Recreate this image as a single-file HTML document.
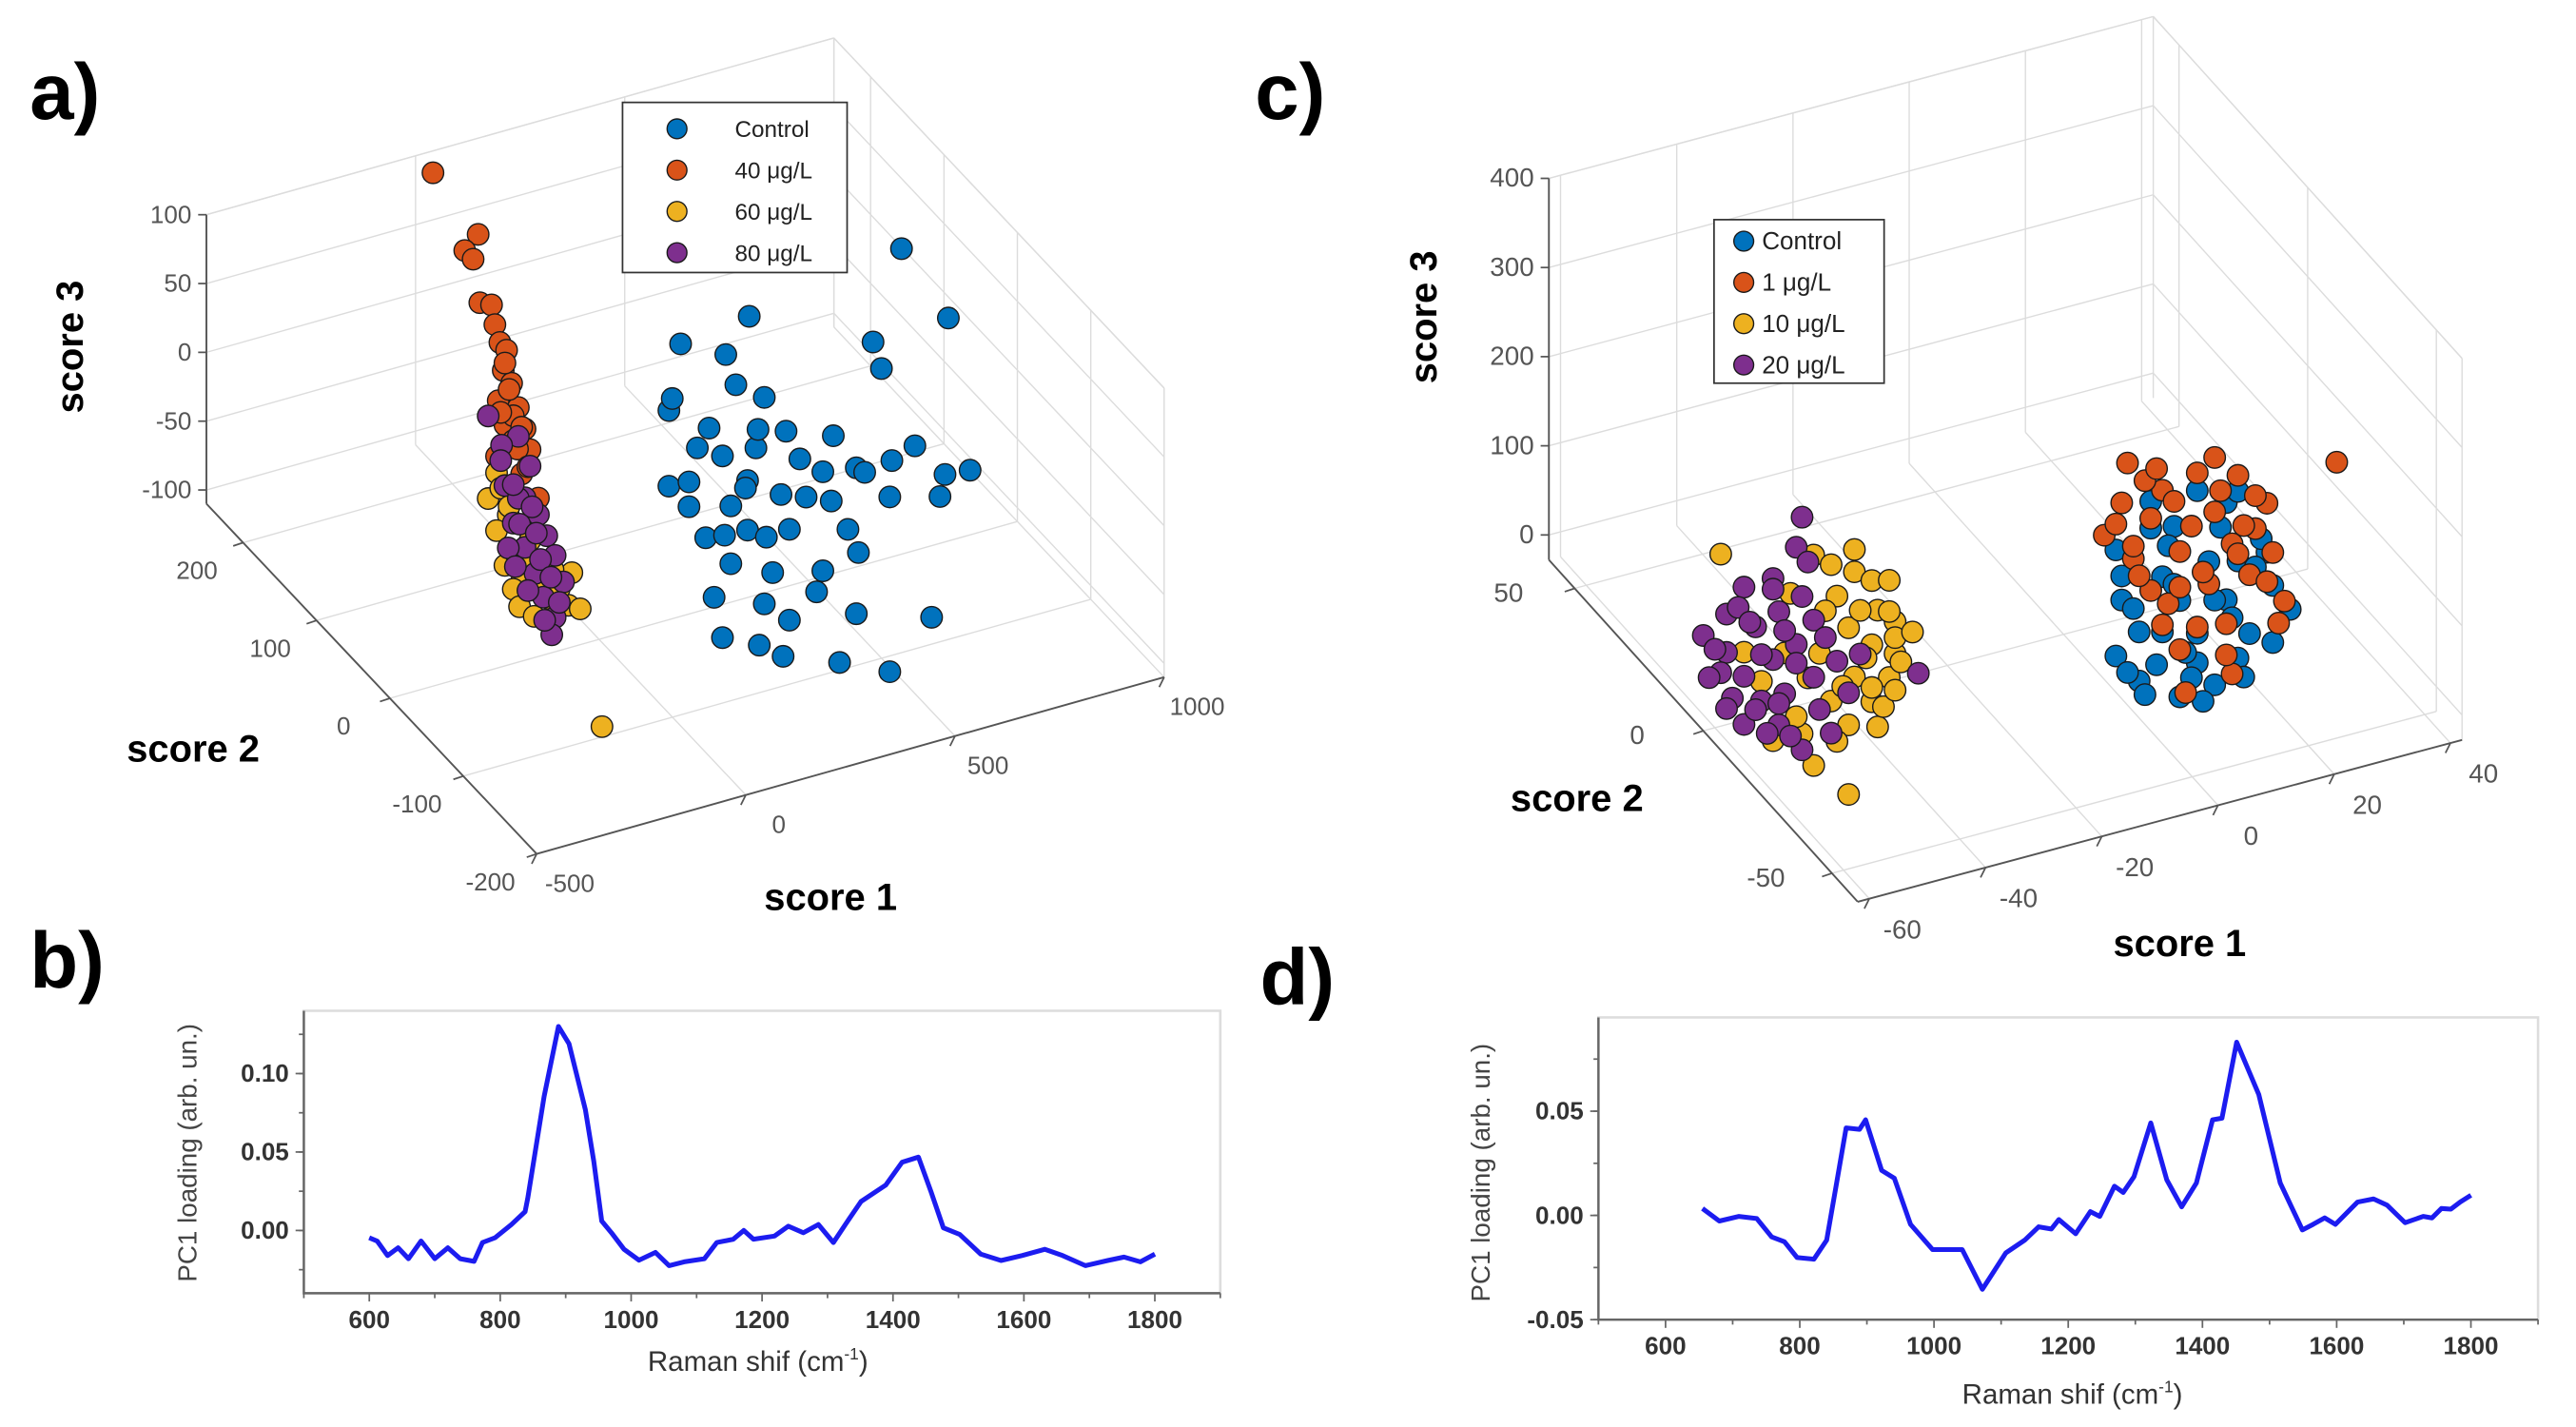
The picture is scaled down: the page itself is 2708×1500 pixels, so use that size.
<!DOCTYPE html>
<html><head><meta charset="utf-8"><style>
html,body{margin:0;padding:0;background:#fff;}
svg{display:block;font-family:"Liberation Sans",sans-serif;}
</style></head><body>
<svg id="fig" width="2708" height="1500" viewBox="0 0 1560 864" preserveAspectRatio="none" xmlns="http://www.w3.org/2000/svg">
<rect width="1560" height="864" fill="#fff"/>
<text x="18" y="72" font-size="48" font-weight="bold">a)</text>
<text x="18" y="598" font-size="48" font-weight="bold">b)</text>
<text x="760" y="72" font-size="48" font-weight="bold">c)</text>
<text x="763" y="608" font-size="48" font-weight="bold">d)</text>
<g id="pa"></g>
<g id="pc"></g>
<g id="pb"></g>
<g id="pd"></g>
</svg>
<script>
// ---------- Panel a data (score1, score3; score2 = 0) ----------
const aControlS1=[723,835,359,195,303,655,167,327,675,395,263,447,755,615,167,295,535,635,827,887,215,315,435,555,695,815,255,355,455,595,315,415,535,275,395,615,795,295,383,455,575,695,215,355,495,375,235,175,480,560,350,400,620,520,300,440,700,380];
const aControlS3=[112,52,94,88,71,50,42,47,29,32,21,3,-34,-38,-13,-2,-34,-43,-61,-63,-32,-40,-42,-57,-66,-76,-58,-61,-69,-81,-82,-97,-106,-103,-118,-144,-162,-134,-147,-135,-176,-193,-14,-25,-49,-3,9,50,-20,-10,-30,-70,-100,-120,-60,-160,-40,10];
const a40S1=[-397,-289,-321,-301,-285,-257,-249,-237,-221,-229,-209,-241,-193,-225,-177,-205,-165,-245,-185,-145,-205,-215,-185,-225,-195,-235,-170];
const a40S3=[263,209,200,192,159,155,140,126,119,105,94,84,75,65,58,52,42,44,26,5,70,90,60,110,45,75,30];
const a60S1=[-245,-265,-217,-245,-165,-225,-185,-65,-145,-73,-45,-205,-145,7,-235,-200,-170,-120,-95,-190,-155,-215,-110];
const a60S3=[32,15,-1,-10,-24,-37,-52,-56,-61,-79,-84,-56,-43,-174,20,-30,-40,-70,-65,-70,-80,5,-50];
const a80S1=[-265,-193,-233,-165,-225,-177,-145,-205,-125,-177,-105,-153,-85,-133,-105,-113,-193,-217,-235,-205,-160,-190,-140,-115,-170,-130,-200,-150,-95];
const a80S3=[75,54,51,30,21,8,-7,-8,-24,-28,-40,-49,-61,-68,-85,-97,9,-25,40,20,0,-10,-40,-55,-60,-85,-40,-20,-75];
const aS1Ticks=[-500,0,500,1000];
const aS2Ticks=[-200,-100,0,100,200];
const aS3Ticks=[-100,-50,0,50,100];
const aLegend=["Control","40 μg/L","60 μg/L","80 μg/L"];
// ---------- Panel c data (score1, score3; score2 = 0) ----------
const cControlS1=[23,15,28,9,19,30,10,20,28,36,39,13,23,32,9,16,23,30,13,20,26,17,35,12,18,25,33,21,14,29,36,10,17,27,31,22,15,34,19,26,11,30,24];
const cControlS3=[93,95,71,51,60,2,-7,-25,-38,-36,-68,-48,-67,-83,-68,-90,-100,-107,-103,-133,-130,7,3,-20,40,10,-10,-85,-120,-60,-100,20,-55,45,-130,-115,65,20,-5,-35,-90,80,-145];
const c1S1=[11,23,30,47,17,35,7,15,26,12,20,29,36,15,25,32,38,17,28,20,29,10,33,14,19,27,31,22,9,13,24,35,18,28,21,33,16,26,12,37,23,30,20];
const c1S3=[145,113,98,83,104,58,71,76,64,36,30,23,1,-5,-15,-17,-57,-47,-65,-80,-123,102,33,120,88,86,40,55,80,15,0,-30,-25,-100,-130,70,130,125,50,-80,-60,10,-10];
const c10S1=[-59,-43,-36,-33,-30,-39,-32,-29,-37,-33,-29,-42,-36,-30,-40,-33,-50,-45,-37,-32,-37,-48,-55,-29,-40,-35,-30,-28,-33,-38,-44,-47,-31,-36,-41,-26,-34,-39,-46,-52,-29,-43];
const c10S3=[165,136,105,90,85,83,55,37,44,18,1,24,-13,-24,-33,-46,-60,-61,-65,-76,-143,35,48,19,120,60,50,-10,-30,-20,0,100,-55,130,70,20,5,-80,-40,10,-40,-100];
const c20S1=[-45,-46,-55,-50,-58,-62,-58,-53,-49,-45,-59,-55,-50,-46,-43,-52,-48,-43,-39,-55,-49,-45,-42,-37,-25,-35,-40,-56,-60,-52,-57,-48,-53,-46,-50,-44,-61,-51,-47,-41,-58,-54,-49];
const c20S3=[182,150,121,122,96,79,53,73,83,93,32,21,31,41,63,-12,-11,-1,10,-33,-44,-79,-39,-29,-28,11,-69,100,60,40,0,60,-20,20,110,130,30,-50,-60,40,-10,80,-20];
const cS1Ticks=[-60,-40,-20,0,20,40];
const cS2Ticks=[-50,0,50];
const cS3Ticks=[0,100,200,300,400];
const cLegend=["Control","1 μg/L","10 μg/L","20 μg/L"];
// ---------- Panel b data ----------
const bX=[600,612,628,644,660,679,700,720,739,760,773,792,817,838,842,867,889,905,930,943,955,970,989,1012,1037,1058,1081,1112,1131,1156,1172,1187,1219,1240,1263,1286,1309,1328,1351,1389,1414,1439,1458,1477,1502,1534,1565,1597,1632,1659,1694,1728,1753,1778,1800];
const bY=[-0.0046,-0.0067,-0.016,-0.011,-0.018,-0.0067,-0.018,-0.011,-0.018,-0.0197,-0.0077,-0.0046,0.0038,0.012,0.0205,0.0854,0.130,0.119,0.077,0.044,0.006,-0.0015,-0.012,-0.019,-0.014,-0.0224,-0.020,-0.018,-0.0077,-0.0056,0,-0.0056,-0.0036,0.0027,-0.0015,0.0038,-0.0077,0.0042,0.0184,0.0289,0.0435,0.0467,0.0247,0.0017,-0.0025,-0.015,-0.0192,-0.016,-0.012,-0.016,-0.0224,-0.0192,-0.017,-0.020,-0.015];
const bYTicks=[0.00,0.05,0.10];
const bYTickLabels=["0.00","0.05","0.10"];
// ---------- Panel d data ----------
const dX=[655,680,709,736,758,777,796,821,840,854,869,889,898,922,941,965,998,1042,1072,1107,1135,1156,1175,1186,1211,1233,1247,1269,1282,1298,1323,1347,1369,1391,1415,1429,1451,1484,1516,1549,1565,1582,1598,1631,1655,1675,1702,1729,1742,1756,1770,1784,1800];
const dY=[0.0033,-0.0027,-0.0005,-0.0015,-0.0103,-0.0126,-0.0202,-0.021,-0.0119,0.014,0.042,0.0413,0.0459,0.0216,0.0178,-0.0043,-0.0164,-0.0164,-0.0354,-0.018,-0.0119,-0.0055,-0.0065,-0.002,-0.0088,0.0018,-0.0005,0.014,0.011,0.0185,0.0444,0.017,0.0041,0.0155,0.0459,0.0467,0.0831,0.058,0.0155,-0.007,-0.0043,-0.0012,-0.0043,0.0064,0.0079,0.0049,-0.0035,-0.0005,-0.0012,0.0033,0.003,0.0064,0.0097];
const dYTicks=[-0.05,0.00,0.05];
const dYTickLabels=["-0.05","0.00","0.05"];
const xTicks=[600,800,1000,1200,1400,1600,1800];

const NS="http://www.w3.org/2000/svg";
function mk(parent,tag,attrs,txt){const e=document.createElementNS(NS,tag);for(const k in attrs)e.setAttribute(k,attrs[k]);if(txt!==undefined)e.textContent=txt;parent.appendChild(e);return e;}
const COL={blue:"#0072BD",orange:"#D95319",yellow:"#EDB120",purple:"#7E2F8E"};

function make3D(g,cfg){
  const P=(s1,s2,s3)=>{
    const u=(s1-cfg.s1[0])/(cfg.s1[1]-cfg.s1[0]);
    const v=(s2-cfg.s2[0])/(cfg.s2[1]-cfg.s2[0]);
    const w=(s3-cfg.s3[0])/(cfg.s3[1]-cfg.s3[0]);
    return [cfg.F[0]+u*cfg.e1[0]+v*cfg.e2[0]+w*cfg.e3[0], cfg.F[1]+u*cfg.e1[1]+v*cfg.e2[1]+w*cfg.e3[1]];
  };
  const line=(a,b,st,sw,name)=>{const l=mk(g,"line",{x1:a[0],y1:a[1],x2:b[0],y2:b[1],stroke:st,"stroke-width":sw});
    
    };
  const [a0,a1]=cfg.s1,[b0,b1]=cfg.s2,[z0,z1]=cfg.s3;
  const gc="#dcdcdc";
  cfg.s3t.forEach(z=>{line(P(a0,b1,z),P(a1,b1,z),gc,0.8,'z-grid-line');line(P(a1,b1,z),P(a1,b0,z),gc,0.8,'z-grid-line');});
  cfg.s1t.forEach(s=>{line(P(s,b0,z0),P(s,b1,z0),gc,0.8,'x-grid-line');line(P(s,b1,z0),P(s,b1,z1),gc,0.8,'x-grid-line');});
  cfg.s2t.forEach(s=>{line(P(a0,s,z0),P(a1,s,z0),gc,0.8,'y-grid-line');line(P(a1,s,z0),P(a1,s,z1),gc,0.8,'y-grid-line');});
  line(P(a0,b1,z1),P(a1,b1,z1),gc,0.8,'box-edge');line(P(a1,b1,z1),P(a1,b0,z1),gc,0.8,'box-edge');
  line(P(a1,b1,z0),P(a1,b1,z1),gc,0.8,'box-edge');line(P(a1,b0,z0),P(a1,b0,z1),gc,0.8,'box-edge');
  const ac="#555";
  line(P(a0,b0,z0),P(a1,b0,z0),ac,1.1,'score1-axis');
  line(P(a0,b0,z0),P(a0,b1,z0),ac,1.1,'score2-axis');
  line(P(a0,b1,z0),P(a0,b1,z1),ac,1.1,'score3-axis');
  const tl=(x,y,t,anchor,name)=>{const e=mk(g,"text",{x:x,y:y,"font-size":cfg.tfs,fill:"#555","text-anchor":anchor},t);
    
    };
  cfg.s3t.forEach(z=>{const p=P(a0,b1,z);line(p,[p[0]-5,p[1]],ac,1,'z-tick');tl(p[0]-9,p[1]+5,String(z),"end",'z-tick-label');});
  cfg.s1t.forEach(s=>{const p=P(s,b0,z0);line(p,[p[0]-3,p[1]+6],ac,1,'x-tick');tl(p[0]+cfg.o1[0],p[1]+cfg.o1[1],String(s),"middle",'x-tick-label');});
  cfg.s2t.forEach(s=>{const p=P(a0,s,z0);line(p,[p[0]-6,p[1]+2],ac,1,'y-tick');tl(p[0]+cfg.o2[0],p[1]+cfg.o2[1],String(s),"middle",'y-tick-label');});
  const al=(x,y,t,rot,name)=>{const e=mk(g,"text",{x:x,y:y,"font-size":23,"font-weight":"bold","text-anchor":"middle",transform:rot?`rotate(-90 ${x} ${y})`:""},t);
    
    };
  al(cfg.l3[0],cfg.l3[1],"score 3",true,'z-axis-title');
  al(cfg.l2[0],cfg.l2[1],"score 2",false,'y-axis-title');
  al(cfg.l1[0],cfg.l1[1],"score 1",false,'x-axis-title');
  cfg.series.forEach(sr=>{sr.x.forEach((v,i)=>{const p=P(v,0,sr.z[i]);
    const c=mk(g,"circle",{cx:p[0],cy:p[1],r:6.5,fill:sr.c,stroke:"#1a1a1a","stroke-width":0.8});
    
    });});
  const L=cfg.leg;
  const box=mk(g,"rect",{x:L.x,y:L.y,width:L.w,height:L.h,fill:"#fff",stroke:"#333","stroke-width":1});
  
  
  cfg.legText.forEach((t,i)=>{const y=L.y0+i*L.dy;
    const m=mk(g,"circle",{cx:L.mx,cy:y,r:6,fill:L.cols[i],stroke:"#1a1a1a","stroke-width":0.8});
    
    
    const e=mk(g,"text",{x:L.tx,y:y+5,"font-size":L.fs,fill:"#222"},t);
    
    });
}

make3D(document.getElementById("pa"),{F:[325,517],e1:[380,-107],e2:[-200,-212],e3:[0,-175],
  s1:[-500,1000],s2:[-200,250],s3:[-110,100],s1t:aS1Ticks,s2t:aS2Ticks,s3t:aS3Ticks,tfs:15,
  o1:[20,23],o2:[-28,22],l3:[50,210],l2:[117,461],l1:[503,551],
  series:[{x:a40S1,z:a40S3,c:COL.orange,name:'point-40ugL'},{x:a60S1,z:a60S3,c:COL.yellow,name:'point-60ugL'},
          {x:a80S1,z:a80S3,c:COL.purple,name:'point-80ugL'},{x:aControlS1,z:aControlS3,c:COL.blue,name:'point-control'}],
  leg:{x:377,y:62,w:136,h:103,mx:410,tx:445,y0:78,dy:25,fs:14,cols:[COL.blue,COL.orange,COL.yellow,COL.purple]},legText:aLegend});

make3D(document.getElementById("pc"),{F:[1125,546],e1:[366,-98],e2:[-187,-207],e3:[0,-231],
  s1:[-62,42],s2:[-60,60],s3:[-28,400],s1t:cS1Ticks,s2t:cS2Ticks,s3t:cS3Ticks,tfs:16,
  o1:[20,24],o2:[-40,8],l3:[870,192],l2:[955,491],l1:[1320,579],
  series:[{x:cControlS1,z:cControlS3,c:COL.blue,name:'point-control'},{x:c1S1,z:c1S3,c:COL.orange,name:'point-1ugL'},
          {x:c10S1,z:c10S3,c:COL.yellow,name:'point-10ugL'},{x:c20S1,z:c20S3,c:COL.purple,name:'point-20ugL'}],
  leg:{x:1038,y:133,w:103,h:99,mx:1056,tx:1067,y0:146,dy:25,fs:15,cols:[COL.blue,COL.orange,COL.yellow,COL.purple]},legText:cLegend});

function makeLine(g,cfg){
  const X=v=>cfg.L+(v-cfg.xr[0])/(cfg.xr[1]-cfg.xr[0])*(cfg.R-cfg.L);
  const Y=v=>cfg.B-(v-cfg.yr[0])/(cfg.yr[1]-cfg.yr[0])*(cfg.B-cfg.T);
  const f=mk(g,"rect",{x:cfg.L,y:cfg.T,width:cfg.R-cfg.L,height:cfg.B-cfg.T,fill:"none",stroke:"#ddd","stroke-width":1.5});
  
  
  const ax=mk(g,"path",{d:`M${cfg.L},${cfg.T} V${cfg.B} H${cfg.R}`,fill:"none",stroke:"#666","stroke-width":1.4});
  
  
  for(let v=cfg.xr[0];v<=cfg.xr[1];v+=100){const t=mk(g,"line",{x1:X(v),y1:cfg.B,x2:X(v),y2:cfg.B+(v%200===0?5:3),stroke:"#666","stroke-width":1});
    
    }
  for(let v=cfg.yr[0]+1e-9;v<=cfg.yr[1];v+=0.025){const q=Math.round(v/0.025)*0.025;if(q<cfg.yr[0]-1e-9||q>cfg.yr[1])continue;
    const t=mk(g,"line",{x1:cfg.L-3,y1:Y(q),x2:cfg.L,y2:Y(q),stroke:"#666","stroke-width":1});
    
    }
  xTicks.forEach(v=>{const t=mk(g,"text",{x:X(v),y:cfg.B+21,"font-size":15,"font-weight":"bold",fill:"#333","text-anchor":"middle"},String(v));
    
    });
  cfg.yt.forEach((v,i)=>{const t=mk(g,"line",{x1:cfg.L-5,y1:Y(v),x2:cfg.L,y2:Y(v),stroke:"#666","stroke-width":1});
    
    
    const l=mk(g,"text",{x:cfg.L-9,y:Y(v)+5,"font-size":15,"font-weight":"bold",fill:"#333","text-anchor":"end"},cfg.yl[i]);
    
    });
  const xt=mk(g,"text",{x:cfg.xl[0],y:cfg.xl[1],"font-size":17,fill:"#333","text-anchor":"middle"});
  
  
  xt.innerHTML='Raman shif (cm<tspan dy="-7" font-size="10">-1</tspan><tspan dy="7">)</tspan>';
  const yt=mk(g,"text",{x:cfg.yl2[0],y:cfg.yl2[1],"font-size":16,fill:"#444","text-anchor":"middle",transform:`rotate(-90 ${cfg.yl2[0]} ${cfg.yl2[1]})`},"PC1 loading (arb. un.)");
  
  
  const d=cfg.x.map((v,i)=>(i?"L":"M")+X(v).toFixed(1)+","+Y(cfg.y[i]).toFixed(1)).join(" ");
  const p=mk(g,"path",{d:d,fill:"none",stroke:"#1c1cf0","stroke-width":2.9,"stroke-linejoin":"round"});
  
  
}
makeLine(document.getElementById("pb"),{L:184,R:739,T:612,B:783,xr:[500,1900],yr:[-0.04,0.14],x:bX,y:bY,yt:bYTicks,yl:bYTickLabels,xl:[459,830],yl2:[119,698]});
makeLine(document.getElementById("pd"),{L:968,R:1537,T:616,B:799,xr:[500,1900],yr:[-0.05,0.095],x:dX,y:dY,yt:dYTicks,yl:dYTickLabels,xl:[1255,850],yl2:[902,710]});
</script>
</body></html>
